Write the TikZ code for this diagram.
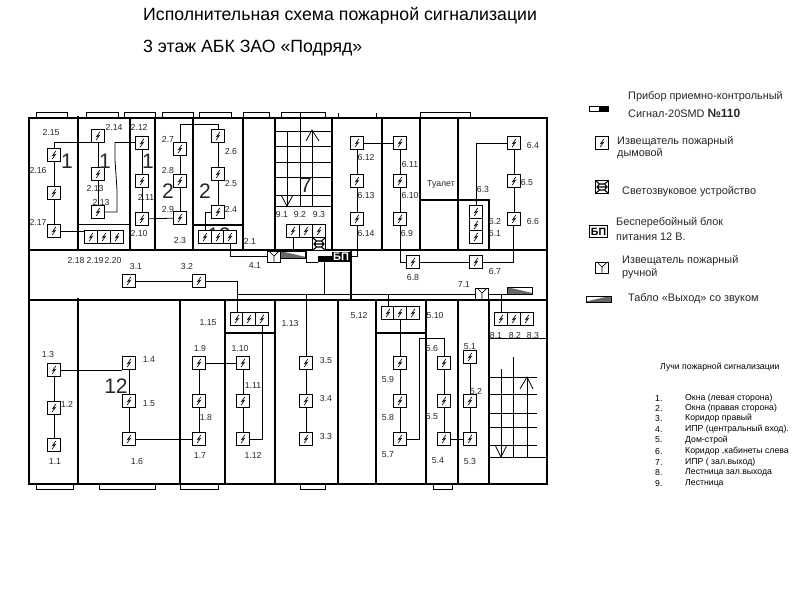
\documentclass[tikz,border=0pt]{standalone}
\usepackage{fontspec}
\setmainfont{Liberation Sans}
\pgfdeclarelayer{bg}
\pgfsetlayers{bg,main}
\tikzset{
  wall/.style={line width=1.7pt,line cap=rect},
  fatwall/.style={line width=2.8pt},
  thinwall/.style={line width=1pt},
  stair/.style={line width=.8pt},
  wire/.style={line width=.8pt},
  winbox/.style={line width=1pt,fill=white},
  lab/.style={inner sep=0pt,font=\fontsize{8.7}{10}\selectfont,text=black!85},
  big/.style={inner sep=0pt,font=\fontsize{21}{24}\selectfont,text=black!85},
  leg/.style={inner sep=0pt,anchor=west,font=\fontsize{10.9}{12}\selectfont,text=black!85},
  small/.style={inner sep=0pt,anchor=west,font=\fontsize{8.7}{10}\selectfont,text=black},
  ttl/.style={inner sep=0pt,anchor=west,font=\fontsize{17.7}{20}\selectfont},
  detector/.style={draw,line width=.8pt,fill=white,inner sep=0pt,minimum size=12.6pt,
    path picture={\draw[line width=.65pt]
      ([shift={(1.8,-4)}]path picture bounding box.center) --
      ([shift={(-1.4,.6)}]path picture bounding box.center) --
      ([shift={(1.4,-.6)}]path picture bounding box.center) --
      ([shift={(-1.8,4)}]path picture bounding box.center);}},
  manual/.style={draw,line width=.8pt,fill=white,inner sep=0pt,minimum width=12.6pt,minimum height=11.5pt,
    path picture={\draw[line width=.7pt]
      ([shift={(-4.5,-5.5)}]path picture bounding box.center) --
      ([shift={(0,-1)}]path picture bounding box.center) --
      ([shift={(4.5,-5.5)}]path picture bounding box.center)
      ([shift={(0,-1)}]path picture bounding box.center) --
      ([shift={(0,6)}]path picture bounding box.center);}},
  sounder/.style={draw,line width=1pt,fill=white,inner sep=0pt,minimum size=12.4pt,
    path picture={\draw[line width=1.1pt]
      ([shift={(-6,-6)}]path picture bounding box.center) --
      ([shift={(-2.5,-3)}]path picture bounding box.center) --
      ([shift={(2.5,-3)}]path picture bounding box.center) --
      ([shift={(6,-6)}]path picture bounding box.center)
      ([shift={(-6,6)}]path picture bounding box.center) --
      ([shift={(-2.5,3)}]path picture bounding box.center) --
      ([shift={(2.5,3)}]path picture bounding box.center) --
      ([shift={(6,6)}]path picture bounding box.center)
      ([shift={(-2.5,-3)}]path picture bounding box.center) --
      ([shift={(-5,0)}]path picture bounding box.center) --
      ([shift={(-2.5,3)}]path picture bounding box.center)
      ([shift={(2.5,-3)}]path picture bounding box.center) --
      ([shift={(5,0)}]path picture bounding box.center) --
      ([shift={(2.5,3)}]path picture bounding box.center)
      ([shift={(-5,0)}]path picture bounding box.center) --
      ([shift={(5,0)}]path picture bounding box.center);}},
  tablo/.style={draw,line width=.7pt,fill=white,inner sep=0pt,minimum width=25pt,minimum height=6.5pt,
    path picture={\fill[black!60]
      ([shift={(-13,-4)}]path picture bounding box.center) --
      ([shift={(13,2)}]path picture bounding box.center) --
      ([shift={(13,4)}]path picture bounding box.center) --
      ([shift={(-13,4)}]path picture bounding box.center) -- cycle;}},
  tabloleg/.style={draw,line width=.7pt,fill=white,inner sep=0pt,minimum width=25pt,minimum height=6.5pt,
    path picture={\fill[black!60]
      ([shift={(13,-4)}]path picture bounding box.center) --
      ([shift={(-13,2)}]path picture bounding box.center) --
      ([shift={(-13,4)}]path picture bounding box.center) --
      ([shift={(13,4)}]path picture bounding box.center) -- cycle;}},
  bpmain/.style={fill=black,text=white,inner sep=0pt,minimum width=18pt,minimum height=10pt,font=\bfseries\fontsize{11}{12}\selectfont},
  bpleg/.style={draw,line width=1.3pt,fill=white,inner sep=0pt,minimum width=18pt,minimum height=12pt,font=\bfseries\fontsize{10.5}{12}\selectfont},
  panelbox/.style={draw,line width=.8pt,fill=white,inner sep=0pt,minimum width=19pt,minimum height=5pt,
    path picture={\fill[black] (path picture bounding box.north) rectangle (path picture bounding box.south east);}},
  panelblack/.style={fill=black,inner sep=0pt,minimum width=14pt,minimum height=6pt}
}
\begin{document}
\begin{tikzpicture}[x=1pt,y=-1pt]
\useasboundingbox (0,0) rectangle (800,600);
\begin{pgfonlayer}{bg}
\fill[white] (0,0) rectangle (800,600);
% windows
\foreach \a/\b in {36/67,86/118,124/155,162/193,199/231,243/269,281/325,420/470}
  \draw[winbox] (\a,112) rectangle (\b,118);
\foreach \a/\b in {36/73,99/155,180/218,300/325,433/452}
  \draw[winbox] (\a,484) rectangle (\b,489);
\draw[thinwall] (338,113) -- (338,118) (376,113) -- (376,118);
% outer walls
\draw[wall] (547,118) -- (29,118) -- (29,484) -- (547,484);
\draw[wall] (547,118) -- (547,484);
% upper block
\draw[wall] (29,250) -- (547,250);
\draw[fatwall] (78,116) -- (78,250);
\foreach \x in {130,155,193,243,275,332,382,420,458}
  \draw[wall] (\x,118) -- (\x,250);
\draw[thinwall] (79,224) -- (130,224);
\draw[wall] (193,225) -- (243,225);
\draw[wall] (420,200) -- (489,200) -- (489,250);
% corridor
\draw[wall] (29,300) -- (547,300);
\draw[wall] (351,250) -- (351,300);
\draw[thinwall] (306,250) -- (306,262) -- (318,262);
% lower block
\draw[fatwall] (78,298) -- (78,484);
\foreach \x in {180,225,275,338,376,426,458,489}
  \draw[wall] (\x,300) -- (\x,484);
\draw[wall] (225,333) -- (275,333);
\draw[wall] (376,333) -- (426,333);
\draw[thinwall] (489,338) -- (547,338);
% upper stairs
\foreach \y in {131,146,162,177,195,206}
  \draw[stair] (275,\y) -- (332,\y);
\draw[stair] (287,131) -- (287,206) (300,112) -- (300,206) (312,131) -- (312,206);
\draw[stair] (306,141) -- (312,130) -- (319,141);
\draw[stair] (281,195) -- (287,206) -- (293,195);
% lower stairs
\foreach \y in {377,394,413,427,445}
  \draw[stair] (489,\y) -- (537,\y);
\draw[stair] (489,457) -- (547,457);
\draw[stair] (501,369) -- (501,457) (513,357) -- (513,457) (527,377) -- (527,457);
\draw[stair] (520,389) -- (527,377) -- (533,389);
\draw[stair] (495,445) -- (501,457) -- (507,445);
\end{pgfonlayer}
% figure partly covered by the detectors
\node[big] (num12a) at (219,235) {12};
% detectors
\foreach \n/\x/\y in {
 a216/54/155,a217/54/193,a218/54/231,
 b1/98/136,b2/98/174,b3/98/212,
 c1/142/143,c2/142/181,c3/142/219,
 e1/180/149,e2/180/181,e3/180/218,
 f1/218/136,f2/218/174,f3/218/212,
 g1/91/237,g2/104/237,g3/117/237,
 h1/205/237,h2/218/237,h3/230/237,
 k31/129/281,k32/199/281,
 m1/357/143,m2/357/181,m3/357/219,
 n1/400/143,n2/400/181,n3/400/219,
 p1/514/143,p2/514/181,p3/514/219,
 q1/413/262,q2/476/262,
 r1/476/212,r2/476/225,r3/476/237,
 s1/293/231,s2/306/231,s3/319/231,
 t1/237/319,t2/249/319,t3/262/319,
 u1/54/370,u2/54/408,u3/54/445,
 v1/129/363,v2/129/401,v3/129/439,
 w1/199/363,w2/199/401,w3/199/439,
 y1/243/363,y2/243/401,y3/243/439,
 z1/306/363,z2/306/401,z3/306/439,
 aa1/388/313,aa2/400/313,aa3/413/313,
 bb1/400/363,bb2/400/401,bb3/400/439,
 cc1/444/363,cc2/444/401,cc3/444/439,
 dd1/470/357,dd2/470/401,dd3/470/439,
 ee1/501/319,ee2/514/319,ee3/527/319}
  \node[detector] (\n) at (\x,\y) {};
\node[sounder] (snd) at (319,244) {};
\node[manual] (man4) at (274,257) {};
\node[manual] (man7) at (482,294) {};
\node[tablo] (tab9) at (293,255) {};
\node[tablo] (tab8) at (519.5,291) {};
\node[panelblack] (ppk) at (325,259) {};
\node[bpmain] (bp) at (341,257) {БП};
% named bends
\coordinate (c1a) at (54,142);
\coordinate (c1b) at (115,142);
\coordinate (c1c) at (115,160);
\coordinate (c1d) at (117,190);
\coordinate (c1e) at (117,212);
\coordinate (c2a) at (180,124);
\coordinate (c2b) at (218,124);
\coordinate (c2c) at (205,212);
\coordinate (c4a) at (230,256);
\coordinate (c3a) at (237,281);
\coordinate (c3b) at (237,294);
\coordinate (c9a) at (293,250);
\coordinate (c0a) at (324,294);
\coordinate (c6a) at (357,256);
\coordinate (c6b) at (352,256);
\coordinate (c6c) at (400,262);
\coordinate (c6d) at (513,262);
\coordinate (c6e) at (476,143);
\coordinate (c1f) at (262,439);
\coordinate (c5a) at (419,439);
\coordinate (c5b) at (419,338);
\coordinate (c5c) at (444,338);
\coordinate (c8a) at (501,294);
\coordinate (c3c) at (306,294);
\coordinate (c5d) at (388,294);
\begin{pgfonlayer}{bg}
\draw[wire] (c1a) -- (a216.center);
\draw[wire] (a216) -- (a217);
\draw[wire] (a217) -- (a218);
\draw[wire] (c1a) -- (b1.west |- c1a);
\draw[wire] (b1) -- (b2);
\draw[wire] (b2) -- (b3);
\draw[wire] (c1b) -- (c1.west |- c1b);
\draw[wire] (c1b) -- (c1c) -- (c1d) -- (c1e) -- (b3.east |- c1e);
\draw[wire] (a218) -- (g1.west |- a218);
\draw[wire] (c1) -- (c2);
\draw[wire] (c2) -- (c3);
\draw[wire] (c3) -- (e3);
\draw[wire] (e1) -- (e2);
\draw[wire] (e2) -- (e3);
\draw[wire] (e1) -- (c2a) -- (c2b) -- (f1);
\draw[wire] (f1) -- (f2);
\draw[wire] (f2) -- (f3);
\draw[wire] (f3) -- (c2c) -- (h1);
\draw[wire] (h3) -- (c4a) -- (man4.west |- c4a);
\draw[wire] (k31) -- (k32);
\draw[wire] (k32) -- (c3a) -- (c3b) -- (man7);
\draw[wire] (t1) -- (c3b);
\draw[wire] (z1) -- (c3c);
\draw[wire] (z1) -- (z2);
\draw[wire] (z2) -- (z3);
\draw[wire] (aa1) -- (c5d);
\draw[wire] (s1) -- (c9a);
\draw[wire] (ppk.south -| c0a) -- (c0a);
\draw[wire] (m1) -- (n1);
\draw[wire] (m1) -- (m2);
\draw[wire] (m2) -- (m3);
\draw[wire] (m3) -- (c6a) -- (c6b);
\draw[wire] (n1) -- (n2);
\draw[wire] (n2) -- (n3);
\draw[wire] (n3) -- (c6c) -- (q1);
\draw[wire] (q1) -- (q2);
\draw[wire] (q2) -- (c6d) -- (p3.south -| c6d);
\draw[wire] (p1) -- (p2);
\draw[wire] (p2) -- (p3);
\draw[wire] (p1) -- (c6e) -- (r1);
\draw[wire] (man7) -- (tab8.west |- man7);
\draw[wire] (c8a) -- (ee1);
\draw[wire] (u1) -- (u2);
\draw[wire] (u2) -- (u3);
\draw[wire] (u1) -- (v1.west |- u1);
\draw[wire] (v1) -- (v2);
\draw[wire] (v2) -- (v3);
\draw[wire] (v3) -- (w3);
\draw[wire] (w1) -- (w2);
\draw[wire] (w2) -- (w3);
\draw[wire] (w1) -- (y1);
\draw[wire] (y1) -- (y2);
\draw[wire] (y2) -- (y3);
\draw[wire] (y3) -- (c1f) -- (t3);
\draw[wire] (aa2) -- (bb1);
\draw[wire] (bb1) -- (bb2);
\draw[wire] (bb2) -- (bb3);
\draw[wire] (bb3) -- (c5a) -- (c5b) -- (c5c) -- (cc1);
\draw[wire] (cc1) -- (cc2);
\draw[wire] (cc2) -- (cc3);
\draw[wire] (cc3) -- (dd3);
\draw[wire] (dd1) -- (dd2);
\draw[wire] (dd2) -- (dd3);
\end{pgfonlayer}
% numeric labels
\foreach \t/\x/\y in {
 2.15/51/133,2.14/114/127,2.12/139/127,2.16/38/171,2.13/95/189,2.13/101/203,2.11/146/197,
 2.17/38/222,2.10/139/233,2.7/168/139,2.8/168/171,2.9/168/209,2.6/231/152,2.5/231/184,
 2.4/231/209,2.3/180/241,2.1/250/241,2.18/76/260,2.19/95/260,2.20/113/260,3.1/136/266,
 3.2/187/266,4.1/255/266,6.12/366/158,6.13/366/196,6.14/366/233,6.11/410/165,6.10/410/196,
 6.9/407/233,6.3/483/190,6.4/533/146,6.5/527/183,6.6/533/221,6.2/495/221,6.1/495/233,
 6.7/495/271,6.8/413/277,7.1/464/285,9.1/282/215,9.2/300/215,9.3/319/215,1.15/208/323,
 1.3/48/354,1.4/149/360,1.2/67/404,1.5/149/404,1.1/55/461,1.6/137/461,1.9/200/348,
 1.10/240/348,1.11/253/386,1.8/206/417,1.7/200/455,1.12/253/455,1.13/290/323,5.12/359/315,
 5.10/435/315,5.6/432/348,5.1/470/347,5.2/476/391,5.9/388/379,5.8/388/417,5.7/388/455,
 5.5/432/417,5.4/438/461,5.3/470/461,3.5/326/360,3.4/326/398,3.3/326/436,8.1/496/335,
 8.2/515/335,8.3/533/335}
  \node[lab,name=n\x x\y] at (\x,\y) {\t};
\node[lab] (toilet) at (441,184) {Туалет};
\foreach \t/\x/\y in {1/67/161,1/105/161,1/148/161,2/168/191,2/205/191,7/306/185,12/116/386}
  \node[big,name=b\x x\y] at (\x,\y) {\t};
% title
\node[ttl] (title1) at (143,16) {Исполнительная схема пожарной сигнализации};
\node[ttl] (title2) at (143,48) {3 этаж АБК ЗАО «Подряд»};
% legend
\node[panelbox] (lgppk) at (598.5,108.5) {};
\node[leg] (lt1) at (628,97) {Прибор приемно-контрольный};
\node[leg] (lt2) at (628,113) {Сигнал-20SMD {\bfseries\fontsize{12}{13}\selectfont №110}};
\node[detector] (lgdet) at (602,143) {};
\node[leg] (lt3) at (617,142) {Извещатель пожарный};
\node[leg] (lt4) at (617,154) {дымовой};
\node[sounder] (lgsnd) at (602,187) {};
\node[leg] (lt5) at (622,192) {Светозвуковое устройство};
\node[bpleg] (lgbp) at (598.5,231.5) {БП};
\node[leg] (lt6) at (616,223) {Бесперебойный блок};
\node[leg] (lt7) at (616,237) {питания 12 В.};
\node[manual] (lgman) at (602,268) {};
\node[leg] (lt8) at (622,261) {Извещатель пожарный};
\node[leg] (lt9) at (622,274) {ручной};
\node[tabloleg] (lgtab) at (599,299.5) {};
\node[leg] (lt10) at (628,299) {Табло «Выход» со звуком};
% list of loops
\node[small] (lhead) at (660,367) {Лучи пожарной сигнализации};
\foreach \i/\t/\y in {
 1/Окна (левая сторона)/398,
 2/Окна (правая сторона)/408,
 3/Коридор правый/418,
 4/ИПР (центральный вход)./429,
 5/Дом-строй/440,
 6/{Коридор ,кабинеты слева}/451,
 7/ИПР ( зал.выход)/462,
 8/Лестница зал.выхода/472,
 9/Лестница/483}{
  \node[small,name=li\i] at (655,\y) {\i.};
  \node[small,name=lt\i x] at (685,\y) {\t};
}
\end{tikzpicture}
\end{document}
